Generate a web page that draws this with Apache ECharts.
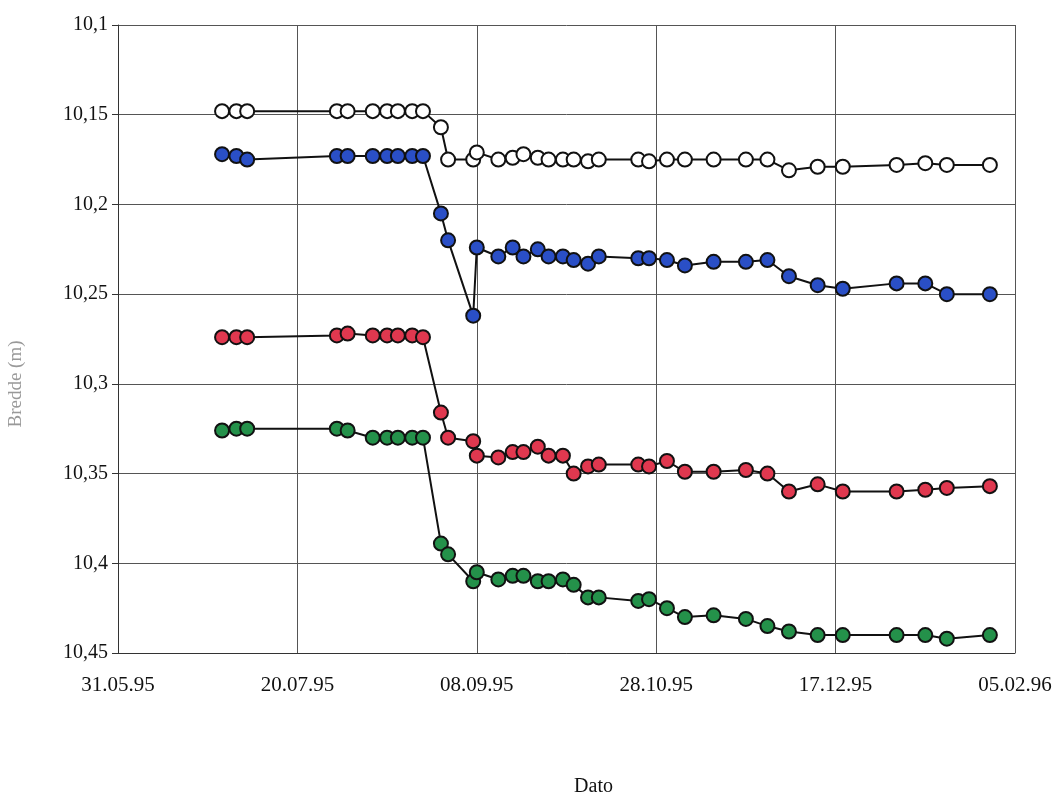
<!DOCTYPE html>
<html>
<head>
<meta charset="utf-8">
<script src="https://cdn.jsdelivr.net/npm/echarts@6/dist/echarts.min.js"></script>
<style>
  html, body { margin: 0; padding: 0; background: #fff; }
  #chart { width: 1056px; height: 796px; }
</style>
</head>
<body>
<div id="chart"></div>
<script>
// measurement dates
const dates = [
  '1995-06-29', '1995-07-03', '1995-07-06', '1995-07-31', '1995-08-03', '1995-08-10',
  '1995-08-14', '1995-08-17', '1995-08-21', '1995-08-24', '1995-08-29', '1995-08-31',
  '1995-09-07', '1995-09-08', '1995-09-14', '1995-09-18', '1995-09-21', '1995-09-25',
  '1995-09-28', '1995-10-02', '1995-10-05', '1995-10-09', '1995-10-12', '1995-10-23',
  '1995-10-26', '1995-10-31', '1995-11-05', '1995-11-13', '1995-11-22', '1995-11-28',
  '1995-12-04', '1995-12-12', '1995-12-19', '1996-01-03', '1996-01-11', '1996-01-17',
  '1996-01-29'
];

// width (m) per series
const whiteVals = [
  10.148, 10.148, 10.148, 10.148, 10.148, 10.148, 10.148, 10.148, 10.148, 10.148,
  10.157, 10.175, 10.175, 10.171, 10.175, 10.174, 10.172, 10.174, 10.175, 10.175,
  10.175, 10.176, 10.175, 10.175, 10.176, 10.175, 10.175, 10.175, 10.175, 10.175,
  10.181, 10.179, 10.179, 10.178, 10.177, 10.178, 10.178
];
const blueVals = [
  10.172, 10.173, 10.175, 10.173, 10.173, 10.173, 10.173, 10.173, 10.173, 10.173,
  10.205, 10.220, 10.262, 10.224, 10.229, 10.224, 10.229, 10.225, 10.229, 10.229,
  10.231, 10.233, 10.229, 10.230, 10.230, 10.231, 10.234, 10.232, 10.232, 10.231,
  10.240, 10.245, 10.247, 10.244, 10.244, 10.250, 10.250
];
const redVals = [
  10.274, 10.274, 10.274, 10.273, 10.272, 10.273, 10.273, 10.273, 10.273, 10.274,
  10.316, 10.330, 10.332, 10.340, 10.341, 10.338, 10.338, 10.335, 10.340, 10.340,
  10.350, 10.346, 10.345, 10.345, 10.346, 10.343, 10.349, 10.349, 10.348, 10.350,
  10.360, 10.356, 10.360, 10.360, 10.359, 10.358, 10.357
];
const greenVals = [
  10.326, 10.325, 10.325, 10.325, 10.326, 10.330, 10.330, 10.330, 10.330, 10.330,
  10.389, 10.395, 10.410, 10.405, 10.409, 10.407, 10.407, 10.410, 10.410, 10.409,
  10.412, 10.419, 10.419, 10.421, 10.420, 10.425, 10.430, 10.429, 10.431, 10.435,
  10.438, 10.440, 10.440, 10.440, 10.440, 10.442, 10.440
];

const startDate = '1995-05-31';
const DAY = 86400000;
const base = Date.parse(startDate);

function dayOf(s) {
  return Math.round((Date.parse(s) - base) / DAY);
}

function fmtDay(d) {
  const dt = new Date(base + d * DAY);
  const dd = String(dt.getUTCDate()).padStart(2, '0');
  const mm = String(dt.getUTCMonth() + 1).padStart(2, '0');
  const yy = String(dt.getUTCFullYear()).slice(2);
  return dd + '.' + mm + '.' + yy;
}

const font = 'Liberation Serif';

function makeSeries(name, vals, fill) {
  return {
    name: name,
    type: 'line',
    data: dates.map((d, i) => [dayOf(d), vals[i]]),
    symbol: 'circle',
    symbolSize: 14,
    lineStyle: { color: '#111', width: 2 },
    itemStyle: { color: fill, borderColor: '#111', borderWidth: 2 },
    emphasis: { disabled: true },
    animation: false
  };
}

const option = {
  backgroundColor: '#fff',
  animation: false,
  grid: { left: 118, right: 41, top: 25, bottom: 143, outerBoundsMode: 'none', containLabel: false },
  xAxis: {
    type: 'value',
    min: 0,
    max: 250,
    interval: 50,
    name: 'Dato',
    nameLocation: 'middle',
    nameGap: 124,
    nameTextStyle: { fontFamily: font, fontSize: 20, color: '#111', padding: [0, 0, 0, 54] },
    axisLine: { lineStyle: { color: '#333', width: 1 } },
    axisTick: { show: false },
    axisLabel: {
      fontFamily: font, fontSize: 21, color: '#111', margin: 22,
      formatter: v => fmtDay(v)
    },
    splitLine: { show: true, lineStyle: { color: '#555', width: 1 } }
  },
  yAxis: {
    type: 'value',
    inverse: true,
    min: 10.1,
    max: 10.45,
    interval: 0.05,
    name: 'Bredde (m)',
    nameLocation: 'middle',
    nameGap: 92,
    nameRotate: 90,
    nameTextStyle: { fontFamily: font, fontSize: 19, color: '#999', padding: [0, 90, 0, 0] },
    axisLine: { show: true, lineStyle: { color: '#333', width: 1 } },
    axisTick: { show: true, length: 6, lineStyle: { color: '#333' } },
    axisLabel: {
      fontFamily: font, fontSize: 20, color: '#111', margin: 10,
      formatter: v => String(parseFloat(v.toFixed(2))).replace('.', ',')
    },
    splitLine: { show: true, lineStyle: { color: '#555', width: 1 } }
  },
  series: [
    makeSeries('hvit', whiteVals, '#ffffff'),
    makeSeries('blå', blueVals, '#2a4fc6'),
    makeSeries('rød', redVals, '#e0384f'),
    makeSeries('grønn', greenVals, '#24914a')
  ]
};

const chart = echarts.init(document.getElementById('chart'));
chart.setOption(option);
</script>
</body>
</html>
